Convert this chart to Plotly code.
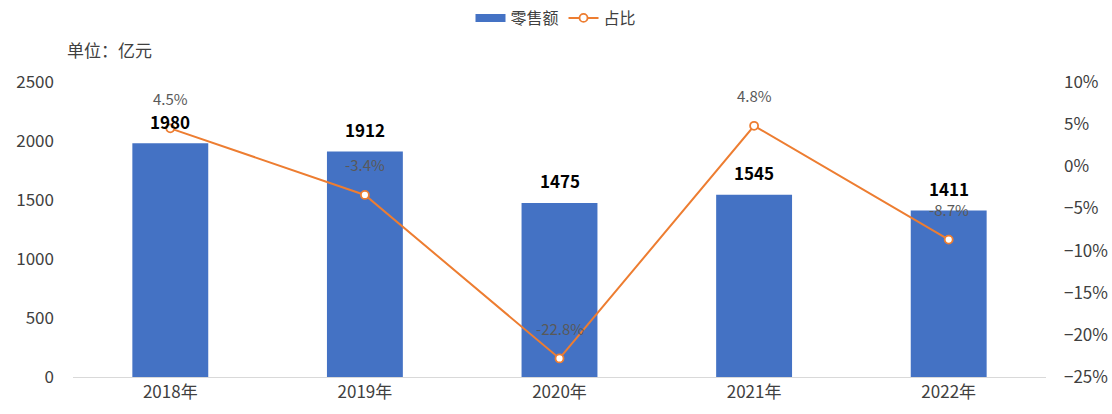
import plotly.graph_objects as go

years = ["2018年", "2019年", "2020年", "2021年", "2022年"]
sales = [1980, 1912, 1475, 1545, 1411]
share = [4.5, -3.4, -22.8, 4.8, -8.7]

BAR_COLOR = "#4472C4"
LINE_COLOR = "#ED7D31"
TEXT_COLOR = "#404040"
FONT = "Noto Sans CJK SC"

W, H = 1112, 414
M_L, M_R, M_T, M_B = 73, 66, 82, 37
PLOT_W, PLOT_H = W - M_L - M_R, H - M_T - M_B

fig = go.Figure()
fig.add_trace(go.Bar(
    x=years, y=sales, name="零售额",
    marker=dict(color=BAR_COLOR, line=dict(width=0)),
    yaxis="y", showlegend=False,
))
# legend entry drawn as a wide flat swatch for the bars
fig.add_trace(go.Scatter(
    x=[None], y=[None], name="零售额", mode="lines",
    line=dict(color=BAR_COLOR, width=8), yaxis="y",
))
fig.add_trace(go.Scatter(
    x=years, y=share, name="占比", mode="lines+markers",
    line=dict(color=LINE_COLOR, width=2),
    marker=dict(size=8, color="white", line=dict(color=LINE_COLOR, width=1.8)),
    yaxis="y2",
))

annotations = []
for yr, v in zip(years, sales):
    annotations.append(dict(
        x=yr, y=v, xref="x", yref="y", text=f"<b>{v}</b>",
        showarrow=False, yshift=22, borderpad=0,
        font=dict(family=FONT, size=17, color="#000000"),
    ))
for yr, p in zip(years, share):
    annotations.append(dict(
        x=yr, y=p, xref="x", yref="y2", text=f"{p}%",
        showarrow=False, yshift=30, borderpad=0,
        font=dict(family=FONT, size=15, color="#595959"),
    ))
annotations.append(dict(
    x=(65 - M_L) / PLOT_W, y=(H - M_B - 50) / PLOT_H,
    xref="paper", yref="paper",
    text="单位：亿元", showarrow=False, xanchor="left", yanchor="middle",
    font=dict(family=FONT, size=17, color=TEXT_COLOR),
))

fig.update_layout(
    width=W, height=H,
    margin=dict(l=M_L, r=M_R, t=M_T, b=M_B, autoexpand=False),
    paper_bgcolor="white", plot_bgcolor="white",
    font=dict(family=FONT, size=17, color=TEXT_COLOR),
    bargap=0.61,
    showlegend=True,
    legend=dict(
        orientation="h", x=0.5, xanchor="center", xref="container",
        y=1 - 18 / H, yref="container", yanchor="middle",
        font=dict(family=FONT, size=16, color=TEXT_COLOR),
        itemwidth=30, tracegroupgap=0,
    ),
    xaxis=dict(
        showline=True, linecolor="#D9D9D9", linewidth=1,
        showgrid=False, ticks="", tickfont=dict(size=17, color=TEXT_COLOR),
    ),
    yaxis=dict(
        range=[0, 2500], dtick=500, showgrid=False, zeroline=False,
        ticks="", tickfont=dict(size=17, color=TEXT_COLOR), ticklabelstandoff=18,
    ),
    yaxis2=dict(
        range=[-25, 10], dtick=5, overlaying="y", side="right",
        showgrid=False, zeroline=False, ticksuffix="%",
        tickfont=dict(size=17, color=TEXT_COLOR), ticklabelstandoff=17,
    ),
    annotations=annotations,
)

fig.write_html("out.html")
